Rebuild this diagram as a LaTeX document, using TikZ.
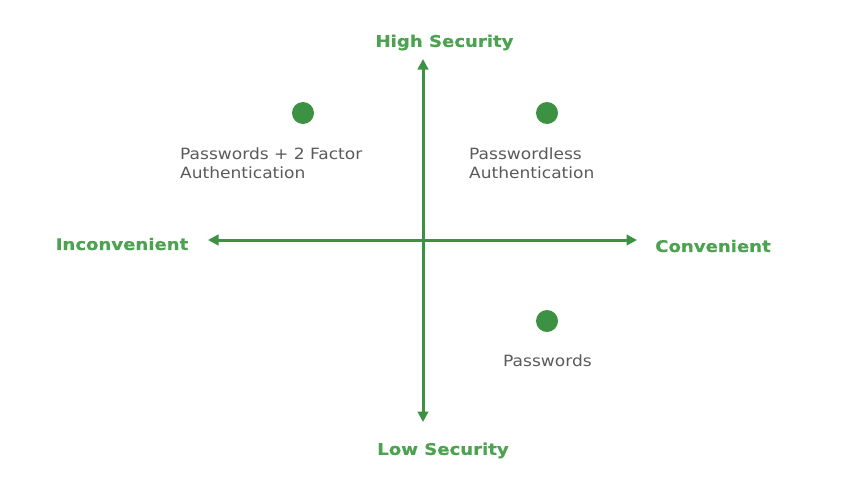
\documentclass[tikz,border=0pt]{standalone}
\usepackage{fontspec}
\setmainfont{DejaVu Sans}
\newfontfamily\lblfont[FakeStretch=1.13,FakeBold=0.6]{DejaVu Sans Bold}
\newfontfamily\itemfont[FakeStretch=1.10]{DejaVu Sans}
\usetikzlibrary{arrows.meta}
\definecolor{axisgreen}{RGB}{61,145,66}
\definecolor{labelgreen}{RGB}{76,162,80}
\definecolor{txtgray}{RGB}{90,90,90}
\tikzset{
  axis/.style={draw=axisgreen, line width=3pt, {Triangle[length=10.5pt,width=10.5pt]}-{Triangle[length=10.5pt,width=10.5pt]}},
  axislabel/.style={text=labelgreen, font=\lblfont\fontsize{16}{18}\selectfont, inner sep=0pt},
  dot/.style={circle, fill=axisgreen, minimum size=22pt, inner sep=0pt},
  item/.style={text=txtgray, font=\itemfont\fontsize{15.5}{19.5}\selectfont, align=left, inner sep=0pt, anchor=north west}
}
\begin{document}
\begin{tikzpicture}[x=1pt,y=-1pt]
\useasboundingbox (0,0) rectangle (867,477);
\coordinate (top) at (423,59);
\coordinate (bot) at (423,422);
\coordinate (lft) at (208,240);
\coordinate (rgt) at (637,240);
\draw[axis] (bot) -- (top);
\draw[axis] (lft) -- (rgt);
\node[axislabel] (high) at (444.5,42.5) {High Security};
\node[axislabel] (low) at (443,450.5) {Low Security};
\node[axislabel] (inc) at (122,244) {Inconvenient};
\node[axislabel] (conv) at (713,246) {Convenient};
\node[dot] (d1) at (303,113) {};
\node[dot] (d2) at (547,113) {};
\node[dot] (d3) at (547,321) {};
\node[item] (t1) at (180,147.5) {Passwords + 2 Factor\\Authentication};
\node[item] (t2) at (469,147.5) {Passwordless\\Authentication};
\node[item] (t3) at (503,355) {Passwords};
\end{tikzpicture}
\end{document}
